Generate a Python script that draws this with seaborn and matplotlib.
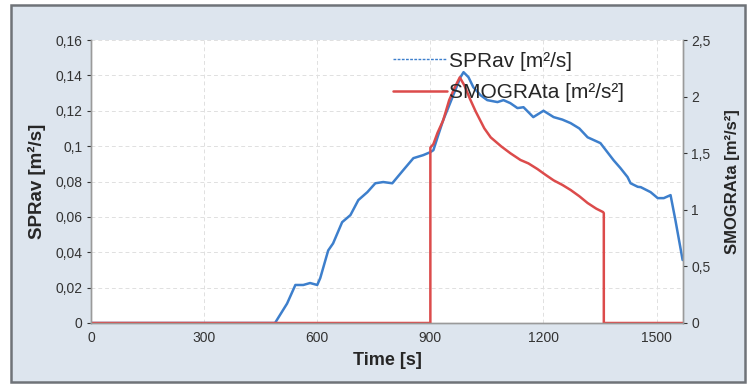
import seaborn as sns
import matplotlib
matplotlib.use("Agg")
import matplotlib.pyplot as plt
import pandas as pd
from matplotlib.lines import Line2D
from matplotlib.patches import Rectangle
from matplotlib.ticker import FuncFormatter

# --- data ---
sprav_time = [0, 488, 520, 542, 563, 581, 600, 608, 629, 642, 666, 688, 709, 733, 754,
              775, 799, 828, 855, 881, 900, 908, 919, 934, 948, 966, 980, 988, 1001,
              1014, 1033, 1051, 1078, 1094, 1112, 1131, 1147, 1173, 1200, 1227, 1250,
              1272, 1295, 1317, 1351, 1386, 1404, 1423, 1431, 1450, 1458, 1484, 1503,
              1519, 1537, 1550, 1569]
sprav = [0, 0, 0.011, 0.0215, 0.0215, 0.0226, 0.0215, 0.0254, 0.041, 0.045, 0.057, 0.061,
         0.0695, 0.074, 0.079, 0.0797, 0.079, 0.0864, 0.0932, 0.0949, 0.0966, 0.0977,
         0.105, 0.1147, 0.122, 0.1316, 0.139, 0.1418, 0.139, 0.1333, 0.1288, 0.126,
         0.1249, 0.126, 0.1243, 0.1215, 0.122, 0.1164, 0.120, 0.1164, 0.115, 0.113,
         0.110, 0.105, 0.1017, 0.092, 0.0876, 0.0825, 0.079, 0.077, 0.0768, 0.074,
         0.0706, 0.0706, 0.0723, 0.058, 0.0356]

smog_time = [0, 900, 900, 908, 919, 934, 950, 966, 978, 990, 1005, 1020, 1043, 1060, 1088,
             1112, 1139, 1160, 1184, 1205, 1227, 1250, 1272, 1295, 1317, 1340, 1358, 1360,
             1360, 1570]
smog = [0, 0, 1.55, 1.58, 1.68, 1.79, 1.97, 2.09, 2.17, 2.10, 1.98, 1.87, 1.72, 1.64,
        1.56, 1.50, 1.44, 1.41, 1.36, 1.31, 1.26, 1.22, 1.175, 1.12, 1.06, 1.01, 0.98,
        0.97, 0, 0]

x_ticks = [0, 300, 600, 900, 1200, 1500]
left_ticks = [0, 0.02, 0.04, 0.06, 0.08, 0.1, 0.12, 0.14, 0.16]
right_ticks = [0, 0.5, 1, 1.5, 2, 2.5]

df_sp = pd.DataFrame({"t": sprav_time, "v": sprav})
df_sm = pd.DataFrame({"t": smog_time, "v": smog})

sns.set_style("white")
plt.rcParams["font.family"] = ["Liberation Sans", "DejaVu Sans"]

blue = "#3d7fcc"
red = "#dc4b4b"
comma = FuncFormatter(lambda v, p: f"{v:g}".replace(".", ","))

fig = plt.figure(figsize=(7.47, 3.89), dpi=100, facecolor="white")
fig.patches.append(Rectangle((11 / 747, 7 / 389), 734 / 747, 377 / 389, transform=fig.transFigure,
                             facecolor="#dde5ee", edgecolor="#6f7378", linewidth=1.8, zorder=-5))
ax = fig.add_axes([91 / 747, 66 / 389, 592 / 747, 283 / 389])
ax.set_facecolor("white")
ax2 = ax.twinx()

sns.lineplot(data=df_sp, x="t", y="v", ax=ax, color=blue, linewidth=1.8, sort=False,
             estimator=None)
sns.lineplot(data=df_sm, x="t", y="v", ax=ax2, color=red, linewidth=1.8, sort=False,
             estimator=None)

ax.set_xlim(0, 1570)
ax.set_ylim(0, 0.16)
ax2.set_ylim(0, 2.5)
ax.set_xticks(x_ticks)
ax.set_yticks(left_ticks)
ax2.set_yticks(right_ticks)
ax.yaxis.set_major_formatter(comma)
ax2.yaxis.set_major_formatter(comma)

ax.grid(True, color="#e0e0e0", linestyle=(0, (4, 3)), linewidth=0.7)
for a in (ax, ax2):
    for s in a.spines.values():
        s.set_color("#9a9a9a")
        s.set_linewidth(1.0)
    a.spines["top"].set_visible(False)
    a.tick_params(labelsize=10, colors="#333333", length=3, width=0.8, pad=3)

ax.set_xlabel("Time [s]", fontsize=13, fontweight="bold", labelpad=5)
ax.set_ylabel("SPRav [m²/s]", fontsize=13.5, fontweight="bold", labelpad=7)
ax2.set_ylabel("SMOGRAta [m²/s²]", fontsize=12, fontweight="bold", labelpad=10)

handles = [Line2D([], [], color=blue, linewidth=1.0, linestyle=(0, (2, 1))),
           Line2D([], [], color=red, linewidth=1.8)]
fig.legend(handles, ["SPRav [m²/s]", "SMOGRAta [m²/s²]"], loc="upper left",
           bbox_to_anchor=(378 / 747, 1 - 37 / 389), frameon=False, fontsize=15,
           handlelength=2.6, handletextpad=0.1, labelspacing=0.6, borderpad=0.2)

fig.savefig("out.png", dpi=100, facecolor="white")
